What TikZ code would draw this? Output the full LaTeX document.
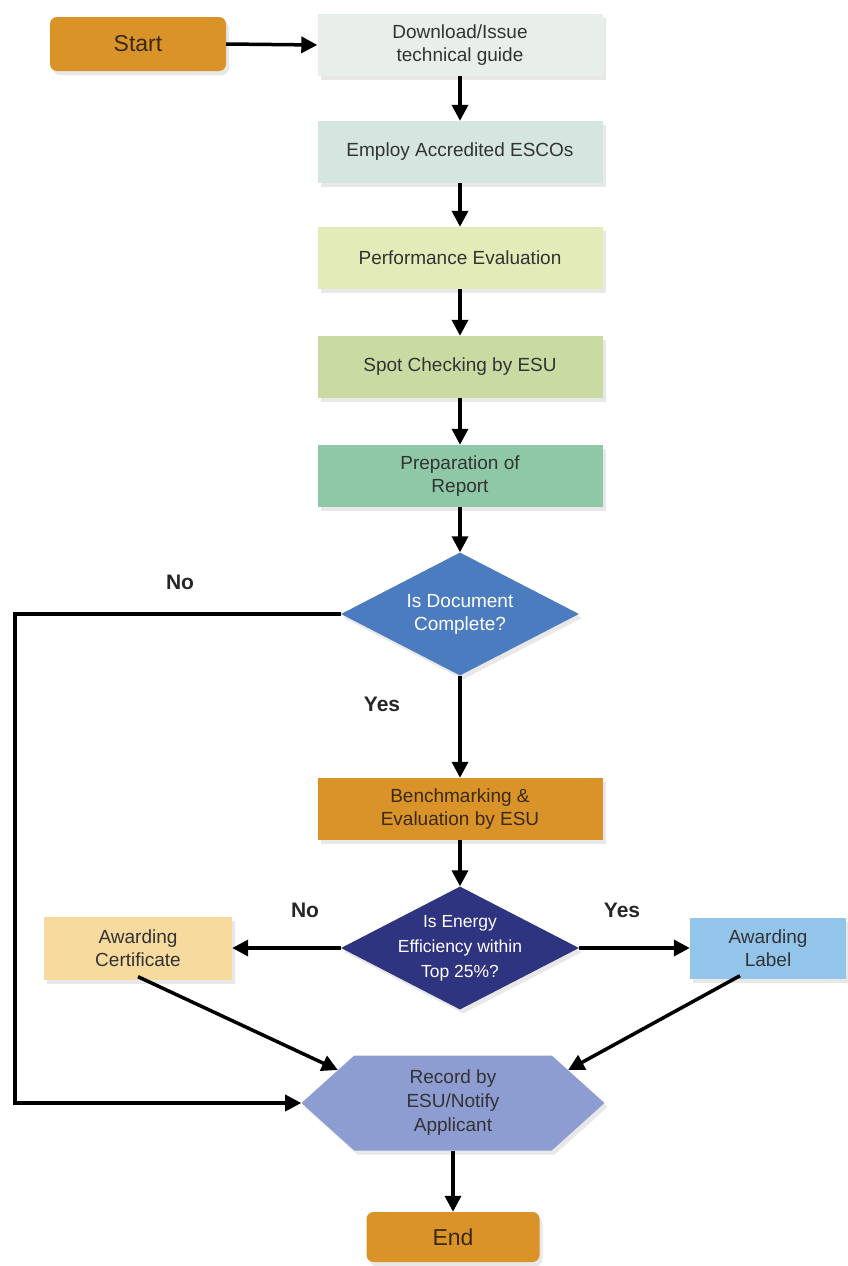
\documentclass[tikz,border=0pt]{standalone}
\usepackage{fontspec}
\setmainfont{Liberation Sans}
\usetikzlibrary{shapes.geometric,shapes.symbols,arrows.meta,shadows}
\definecolor{corange}{HTML}{DA9329}
\definecolor{cdl}{HTML}{E8EEEA}
\definecolor{cemp}{HTML}{D5E6E1}
\definecolor{cperf}{HTML}{E3EBB9}
\definecolor{cspot}{HTML}{C9DBA2}
\definecolor{cprep}{HTML}{8FC8A6}
\definecolor{cdone}{HTML}{4C7CC0}
\definecolor{cdtwo}{HTML}{2E3480}
\definecolor{ccert}{HTML}{F6DA9E}
\definecolor{clabel}{HTML}{93C5EA}
\definecolor{chex}{HTML}{8D9DD2}
\definecolor{ctext}{HTML}{333333}
\definecolor{cbrown}{HTML}{3A2A10}
\tikzset{
  shad/.style={drop shadow={opacity=0.18,shadow xshift=3pt,shadow yshift=-4pt}},
  stepbox/.style={rectangle,shad,minimum width=285pt,minimum height=62pt,align=center,
    font=\fontsize{19}{23}\selectfont,text=ctext,inner sep=2pt},
  term/.style={rectangle,rounded corners=7pt,shad,fill=corange,minimum width=176pt,
    minimum height=54pt,font=\fontsize{23}{27}\selectfont,text=cbrown},
  decision/.style={diamond,aspect=1.93,shad,minimum width=238pt,minimum height=123pt,inner sep=-16pt,
    align=center,font=\fontsize{19}{23}\selectfont,text=white},
  arr/.style={line width=3.5pt,-{Triangle[width=16pt,length=16pt]}},
  lbl/.style={font=\bfseries\fontsize{21}{25}\selectfont,text=black!85}
}
\begin{document}
\begin{tikzpicture}[x=1pt,y=-1pt]
\useasboundingbox (0,0) rectangle (848,1266);
\node[term] (start) at (138,44) {Start};
\node[stepbox,fill=cdl] (dl) at (460,45) {Download/Issue\\technical guide};
\node[stepbox,fill=cemp] (emp) at (460,152) {Employ Accredited ESCOs};
\node[stepbox,fill=cperf] (perf) at (460,258) {Performance Evaluation};
\node[stepbox,fill=cspot] (spot) at (460,367) {Spot Checking by ESU};
\node[stepbox,fill=cprep] (prep) at (460,476) {Preparation of\\Report};
\node[decision,fill=cdone] (d1) at (460,614) {Is Document\\Complete?};
\node[stepbox,fill=corange,text=cbrown] (bench) at (460,809) {Benchmarking \&\\Evaluation by ESU};
\node[decision,fill=cdtwo,font=\fontsize{17.5}{25}\selectfont] (d2) at (460,948) {Is Energy\\Efficiency within\\Top 25\%?};
\node[stepbox,fill=ccert,minimum width=188pt,minimum height=63pt] (cert) at (138,948) {Awarding\\Certificate};
\node[stepbox,fill=clabel,minimum width=156pt,minimum height=61pt] (label) at (768,948) {Awarding\\Label};
\node[signal,signal to=west and east,signal pointer angle=84,shad,fill=chex,
  minimum width=303pt,minimum height=95pt,inner sep=0pt,align=center,
  font=\fontsize{19}{24}\selectfont,text=ctext] (hex) at (453,1103) {Record by\\ESU/Notify\\Applicant};
\node[term,minimum width=173pt,minimum height=50pt] (end) at (453,1237) {End};

\coordinate (lt) at (15,614);
\coordinate (lb) at (15,1103);

\draw[arr] (start.east) -- (dl.west);
\draw[arr] (dl) -- (emp);
\draw[arr] (emp) -- (perf);
\draw[arr] (perf) -- (spot);
\draw[arr] (spot) -- (prep);
\draw[arr] (prep) -- (d1.north);
\draw[arr] (d1.south) -- (bench.north);
\draw[arr] (d1.west) -- (lt) -- (lb) -- (hex.west);
\draw[arr] (bench.south) -- (d2.north);
\draw[arr] (d2.west) -- (cert.east);
\draw[arr] (d2.east) -- (label.west);
\draw[arr] ([yshift=3pt]cert.south) -- (hex.164);
\draw[arr] ([xshift=-28pt,yshift=3pt]label.south) -- (hex.16);
\draw[arr] (hex.south) -- (end.north);

\node[lbl] (no1) at (180,582) {No};
\node[lbl] (yes1) at (382,704) {Yes};
\node[lbl] (no2) at (305,910) {No};
\node[lbl] (yes2) at (622,910) {Yes};
\end{tikzpicture}
\end{document}
